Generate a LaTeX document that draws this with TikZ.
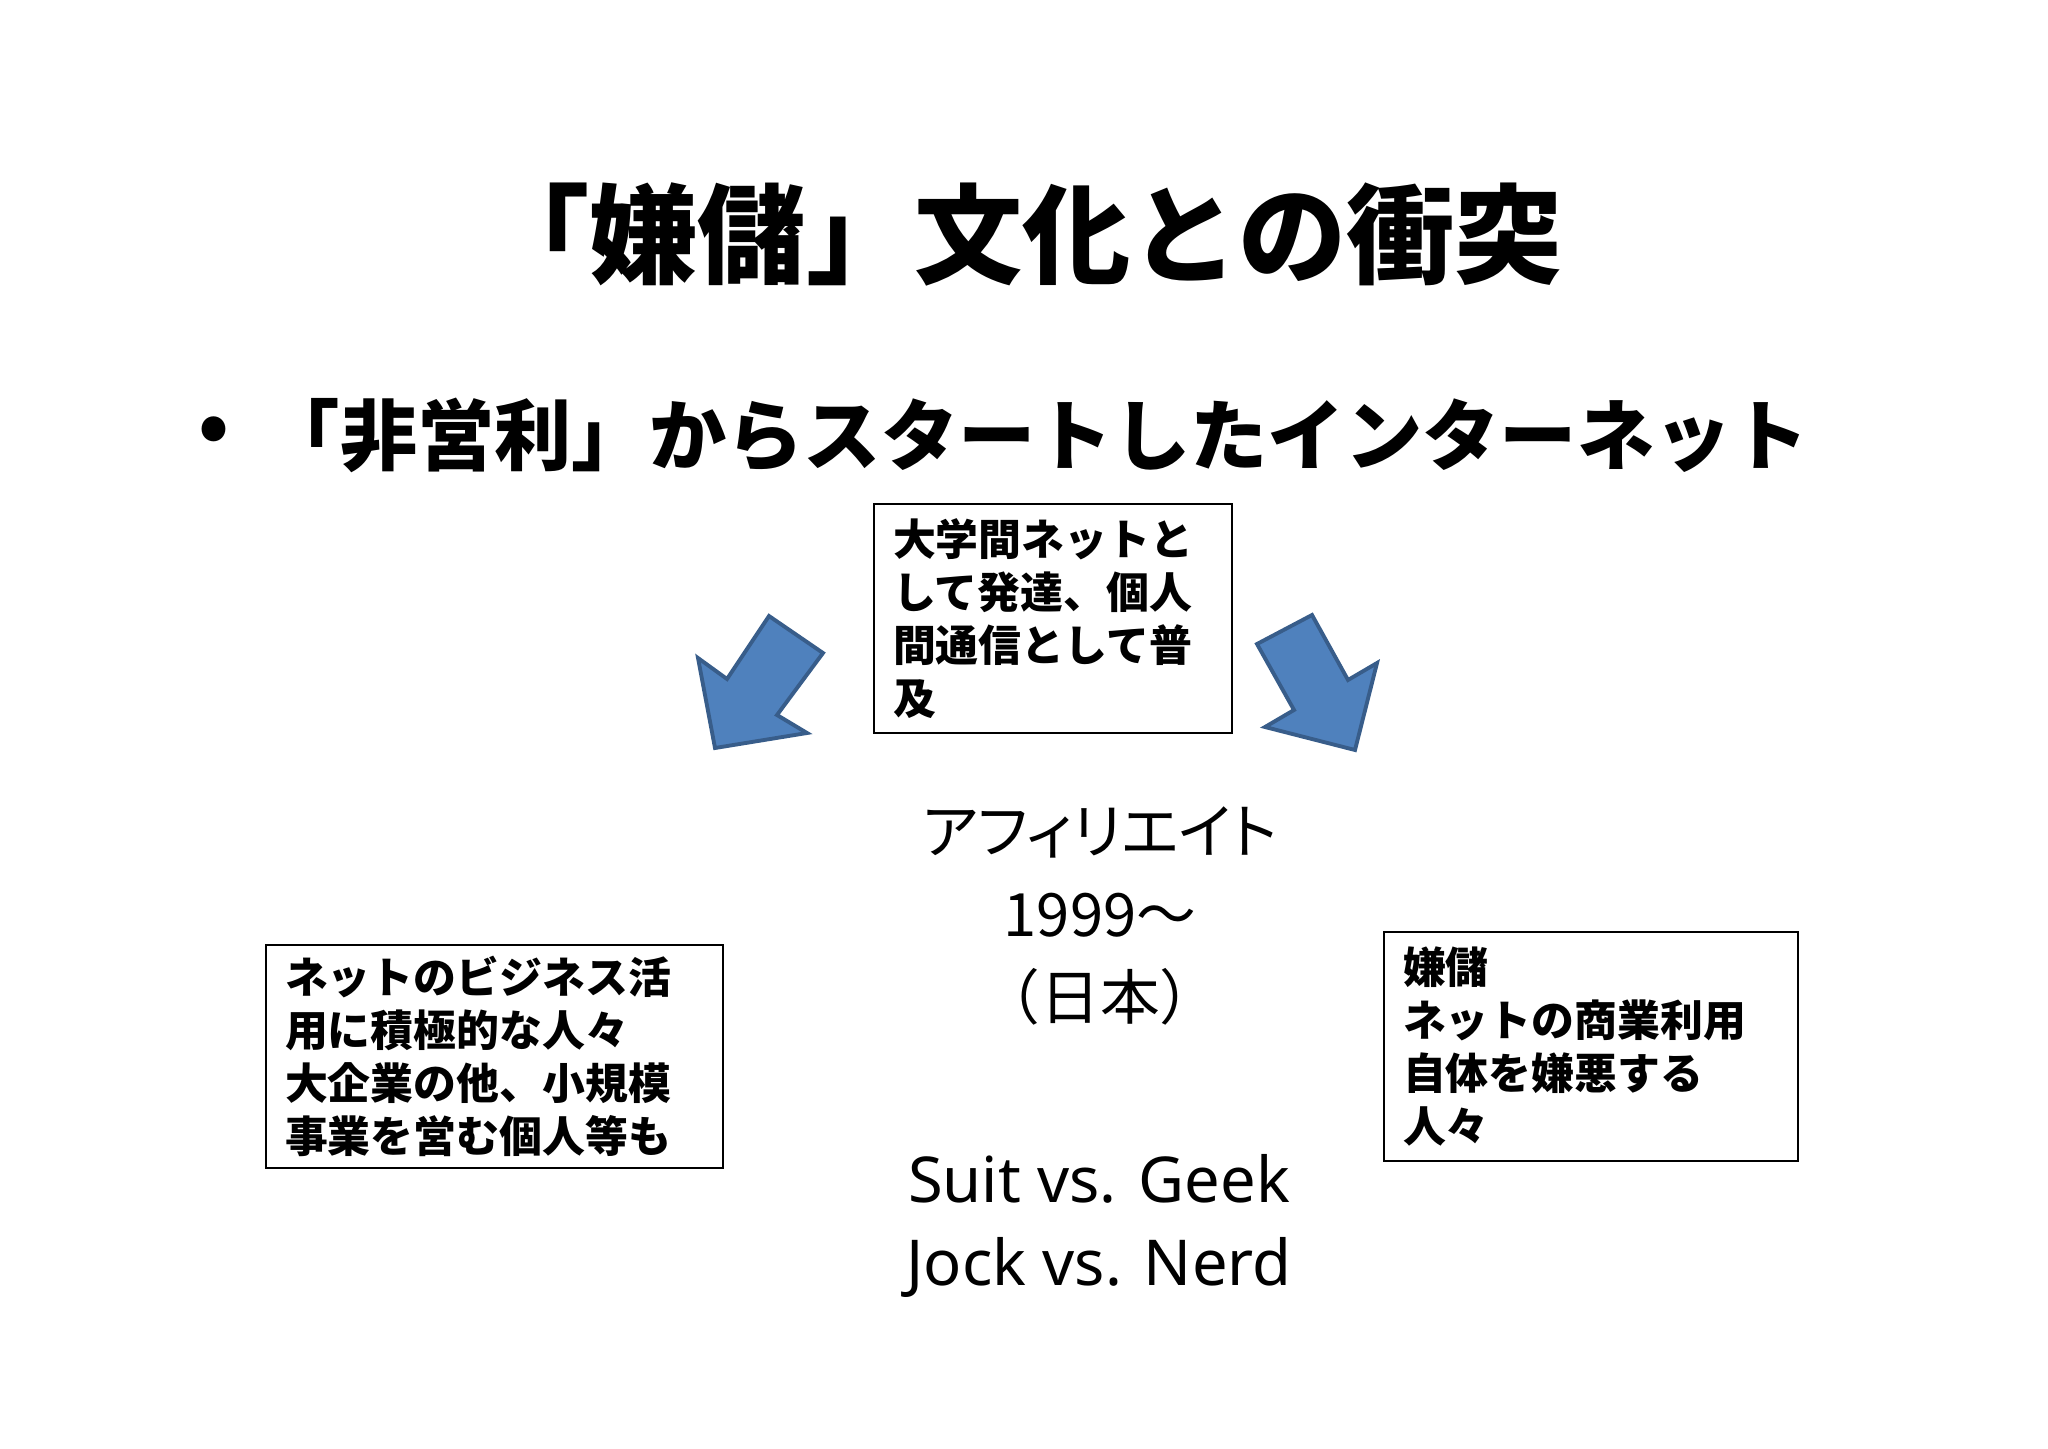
\documentclass[tikz,border=0pt]{standalone}
\usepackage{fontspec}
\setmainfont{Noto Sans CJK JP}
\newfontfamily\jpprop{Noto Sans CJK JP}[RawFeature=+palt]
\newfontfamily\latinsans{Noto Sans}
\definecolor{arrowfill}{HTML}{4F81BD}
\definecolor{arrowline}{HTML}{385D8A}
\tikzset{
  notebox/.style={draw=black, line width=0.6pt, anchor=north west, align=left,
    inner xsep=1.9mm, inner ysep=0pt,
    font=\bfseries\fontsize{12.2pt}{15.1pt}\selectfont},
  blockarrow/.style={fill=arrowfill, draw=arrowline, line width=1.1pt, line join=miter},
}
\begin{document}
\begin{tikzpicture}[x=0.1mm,y=-0.1mm]
\useasboundingbox (0,0) rectangle (2048,1448);
\fill[white] (0,0) rectangle (2048,1448);
% headings
\node[inner sep=0pt,font=\bfseries\fontsize{30.8pt}{36pt}\selectfont] (title) at (1022,234) {「嫌儲」文化との衝突};
\node[font=\bfseries\fontsize{22pt}{26pt}\selectfont] (bullet) at (214,435) {•};
\node[anchor=west,inner sep=0pt,font=\bfseries\fontsize{22pt}{26pt}\selectfont] (lead) at (262,435) {「非営利」からスタートしたインターネット};
% boxes
\node[notebox,text width=32mm,minimum height=22.9mm] (origin) at (873,503) {大学間ネットと\\して発達、個人\\間通信として普\\及};
\node[notebox,text width=41.9mm,minimum height=22.3mm] (business) at (265,944) {ネットのビジネス活\\用に積極的な人々\\大企業の他、小規模\\事業を営む個人等も};
\node[notebox,text width=37.6mm,minimum height=22.9mm] (kenmou) at (1383,931) {嫌儲\\ネットの商業利用\\自体を嫌悪する\\人々};
% centre text
\node[align=center,font=\fontsize{17pt}{23.5pt}\selectfont] (affil) at (1100,916) {{\jpprop アフィリエイト}\\1999～\\（日本）};
\node[align=center,font=\latinsans\fontsize{18pt}{23.6pt}\selectfont] (geek) at (1099,1226) {Suit vs. Geek\\Jock vs. Nerd};
% left arrow
\coordinate (L1) at (715,748);
\coordinate (L2) at (698,658);
\coordinate (L3) at (727,679);
\coordinate (L4) at (769,616);
\coordinate (L5) at (823,653);
\coordinate (L6) at (777,715);
\coordinate (L7) at (807,733);
\draw[blockarrow] (L1)--(L2)--(L3)--(L4)--(L5)--(L6)--(L7)--cycle;
% right arrow
\coordinate (R1) at (1257,644);
\coordinate (R2) at (1312,615);
\coordinate (R3) at (1348,680);
\coordinate (R4) at (1377,663);
\coordinate (R5) at (1355,750);
\coordinate (R6) at (1265,727);
\coordinate (R7) at (1294,710);
\draw[blockarrow] (R1)--(R2)--(R3)--(R4)--(R5)--(R6)--(R7)--cycle;
\end{tikzpicture}
\end{document}
